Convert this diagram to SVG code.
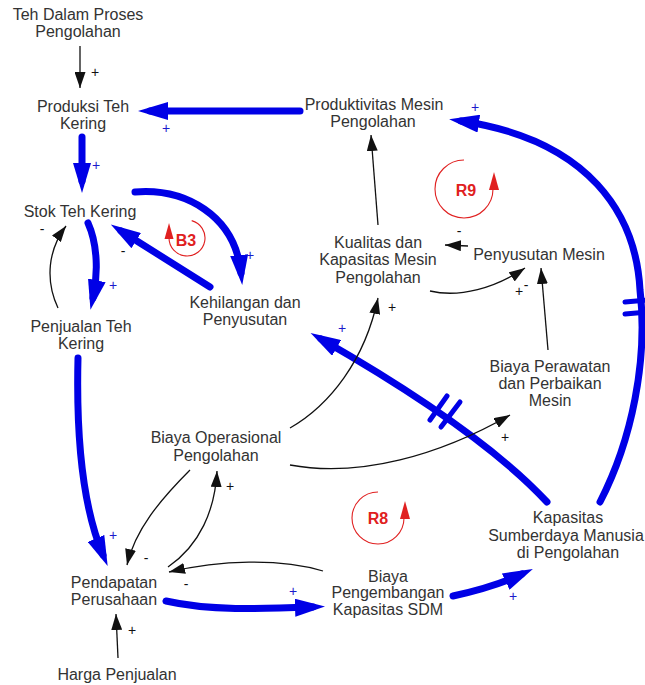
<svg xmlns="http://www.w3.org/2000/svg" width="645" height="685" viewBox="0 0 645 685">
  <defs>
    <style>
      .lbl { font-family: "Liberation Sans", Arial, sans-serif; font-size: 16px; fill: #333; text-anchor: middle; }
      .pol { font-family: "Liberation Sans", Arial, sans-serif; font-size: 14px; text-anchor: middle; }
      .pb { fill: #1a1acc; }
      .pk { fill: #111; }
      .strong { fill: none; stroke: #0000e6; stroke-width: 7; stroke-linecap: round; }
      .bar { fill: none; stroke: #0000e6; stroke-width: 5; stroke-linecap: round; }
      .thin { fill: none; stroke: #111; stroke-width: 1.3; }
      .loop { fill: none; stroke: #e02020; stroke-width: 1.1; }
      .loophead { fill: #e02020; }
      .loopname { font-family: "Liberation Sans", Arial, sans-serif; font-size: 16px; font-weight: bold; fill: #e02020; text-anchor: middle; }
    </style>
    <marker id="headBlue" viewBox="0 0 30 18" refX="18" refY="9" markerWidth="30" markerHeight="18" markerUnits="userSpaceOnUse" orient="auto">
      <path d="M0,0 L30,9 L0,18 Z" fill="#0000e6"/>
    </marker>
    <marker id="headBlack" viewBox="0 0 16 11" refX="16" refY="5.5" markerWidth="16" markerHeight="11" markerUnits="userSpaceOnUse" orient="auto">
      <path d="M0,0 L16,5.5 L0,11 Z" fill="#111"/>
    </marker>
  </defs>

  <rect width="645" height="685" fill="#fff"/>

  <!-- connectors -->
  <g id="connectors">
    <!-- strong links -->
    <path class="strong" d="M300,111 L150,111" marker-end="url(#headBlue)"/>
    <path class="strong" d="M82,137 L82,181" marker-end="url(#headBlue)"/>
    <path class="strong" d="M135,192 C185,188 235,215 241,273" marker-end="url(#headBlue)"/>
    <path class="strong" d="M210,287 L121,231" marker-end="url(#headBlue)"/>
    <path class="strong" d="M88,223 C98,245 98,275 93,298" marker-end="url(#headBlue)"/>
    <path class="strong" d="M78,358 C76,440 84,510 103,555" marker-end="url(#headBlue)"/>
    <path class="strong" d="M166,601 C210,611 260,609 313,607" marker-end="url(#headBlue)"/>
    <path class="strong" d="M453,596 C480,590 505,582 522,574" marker-end="url(#headBlue)"/>
    <path class="strong" d="M547,502 Q480,430 321,339" marker-end="url(#headBlue)"/>
    <path class="strong" d="M600,502 C632,440 648,360 640,290 C636,215 590,140 461,121" marker-end="url(#headBlue)"/>

    <!-- delay marks -->
    <path class="bar" d="M430,420 L447,396"/>
    <path class="bar" d="M441,427 L460,402"/>
    <path class="bar" d="M625,302 L648,300"/>
    <path class="bar" d="M625,314 L648,312"/>

    <!-- thin links -->
    <path class="thin" d="M80,46 L80,88" marker-end="url(#headBlack)"/>
    <path class="thin" d="M118,658 L116,614" marker-end="url(#headBlack)"/>
    <path class="thin" d="M58,308 C45,280 48,250 66,226" marker-end="url(#headBlack)"/>
    <path class="thin" d="M378,225 L371,135" marker-end="url(#headBlack)"/>
    <path class="thin" d="M468,246 L445,245" marker-end="url(#headBlack)"/>
    <path class="thin" d="M430,291 C460,298 495,288 525,268" marker-end="url(#headBlack)"/>
    <path class="thin" d="M548,350 L541,268" marker-end="url(#headBlack)"/>
    <path class="thin" d="M290,428 C330,405 365,360 378,298" marker-end="url(#headBlack)"/>
    <path class="thin" d="M290,465 C360,478 440,455 510,415" marker-end="url(#headBlack)"/>
    <path class="thin" d="M190,470 C160,500 135,530 127,565" marker-end="url(#headBlack)"/>
    <path class="thin" d="M168,567 C200,545 215,510 217,471" marker-end="url(#headBlack)"/>
    <path class="thin" d="M323,571 C280,558 220,560 169,572" marker-end="url(#headBlack)"/>

    <!-- polarities -->
    <text class="pol pk" x="95" y="77">+</text>
    <text class="pol pb" x="166" y="133">+</text>
    <text class="pol pb" x="96" y="170">+</text>
    <text class="pol pk" x="42" y="234">-</text>
    <text class="pol pk" x="123" y="256">-</text>
    <text class="pol pb" x="250" y="260">+</text>
    <text class="pol pb" x="113" y="290">+</text>
    <text class="pol pb" x="475" y="112">+</text>
    <text class="pol pk" x="459" y="236">-</text>
    <text class="pol pk" x="519" y="296">+</text>
    <text class="pol pk" x="526" y="290">-</text>
    <text class="pol pk" x="392" y="312">+</text>
    <text class="pol pb" x="342" y="333">+</text>
    <text class="pol pk" x="505" y="442">+</text>
    <text class="pol pk" x="230" y="491">+</text>
    <text class="pol pb" x="113" y="540">+</text>
    <text class="pol pk" x="146" y="563">-</text>
    <text class="pol pk" x="186" y="589">-</text>
    <text class="pol pb" x="293" y="596">+</text>
    <text class="pol pk" x="132" y="635">+</text>
    <text class="pol pb" x="513" y="601">+</text>
  </g>

  <!-- loop markers -->
  <g id="loop-B3">
    <path class="loop" d="M191.7,220.6 A18,18 0 1,1 169,238"/>
    <polygon class="loophead" points="169,223 164.5,239 173.5,239"/>
    <text class="loopname" x="186" y="246">B3</text>
  </g>
  <g id="loop-R9">
    <path class="loop" d="M464,160 A29,29 0 1,0 493,189"/>
    <polygon class="loophead" points="494,172 489,190 499,190"/>
    <text class="loopname" x="466" y="196">R9</text>
  </g>
  <g id="loop-R8">
    <path class="loop" d="M378,492 A26,26 0 1,0 404,518"/>
    <polygon class="loophead" points="405,501 400,519 410,519"/>
    <text class="loopname" x="378" y="524">R8</text>
  </g>

  <!-- variables -->
  <g id="teh-dalam-proses">
    <text class="lbl" x="78" y="20">Teh Dalam Proses</text>
    <text class="lbl" x="78" y="37">Pengolahan</text>
  </g>
  <g id="produksi-teh-kering">
    <text class="lbl" x="83" y="112">Produksi Teh</text>
    <text class="lbl" x="83" y="129">Kering</text>
  </g>
  <g id="stok-teh-kering">
    <text class="lbl" x="80" y="217">Stok Teh Kering</text>
  </g>
  <g id="penjualan-teh-kering">
    <text class="lbl" x="81" y="332">Penjualan Teh</text>
    <text class="lbl" x="81" y="349">Kering</text>
  </g>
  <g id="kehilangan-penyusutan">
    <text class="lbl" x="245" y="308">Kehilangan dan</text>
    <text class="lbl" x="245" y="325">Penyusutan</text>
  </g>
  <g id="produktivitas-mesin">
    <text class="lbl" x="374" y="110">Produktivitas Mesin</text>
    <text class="lbl" x="373" y="127">Pengolahan</text>
  </g>
  <g id="kualitas-kapasitas-mesin">
    <text class="lbl" x="378" y="248">Kualitas dan</text>
    <text class="lbl" x="378" y="265">Kapasitas Mesin</text>
    <text class="lbl" x="378" y="283">Pengolahan</text>
  </g>
  <g id="penyusutan-mesin">
    <text class="lbl" x="539" y="260">Penyusutan Mesin</text>
  </g>
  <g id="biaya-perawatan">
    <text class="lbl" x="550" y="372">Biaya Perawatan</text>
    <text class="lbl" x="550" y="389">dan Perbaikan</text>
    <text class="lbl" x="550" y="406">Mesin</text>
  </g>
  <g id="biaya-operasional">
    <text class="lbl" x="216" y="443">Biaya Operasional</text>
    <text class="lbl" x="216" y="461">Pengolahan</text>
  </g>
  <g id="pendapatan-perusahaan">
    <text class="lbl" x="114" y="588">Pendapatan</text>
    <text class="lbl" x="114" y="605">Perusahaan</text>
  </g>
  <g id="harga-penjualan">
    <text class="lbl" x="117" y="680">Harga Penjualan</text>
  </g>
  <g id="biaya-pengembangan-sdm">
    <text class="lbl" x="388" y="582">Biaya</text>
    <text class="lbl" x="388" y="598">Pengembangan</text>
    <text class="lbl" x="388" y="615">Kapasitas SDM</text>
  </g>
  <g id="kapasitas-sdm">
    <text class="lbl" x="568" y="523">Kapasitas</text>
    <text class="lbl" x="566" y="541">Sumberdaya Manusia</text>
    <text class="lbl" x="568" y="558">di Pengolahan</text>
  </g>
</svg>
